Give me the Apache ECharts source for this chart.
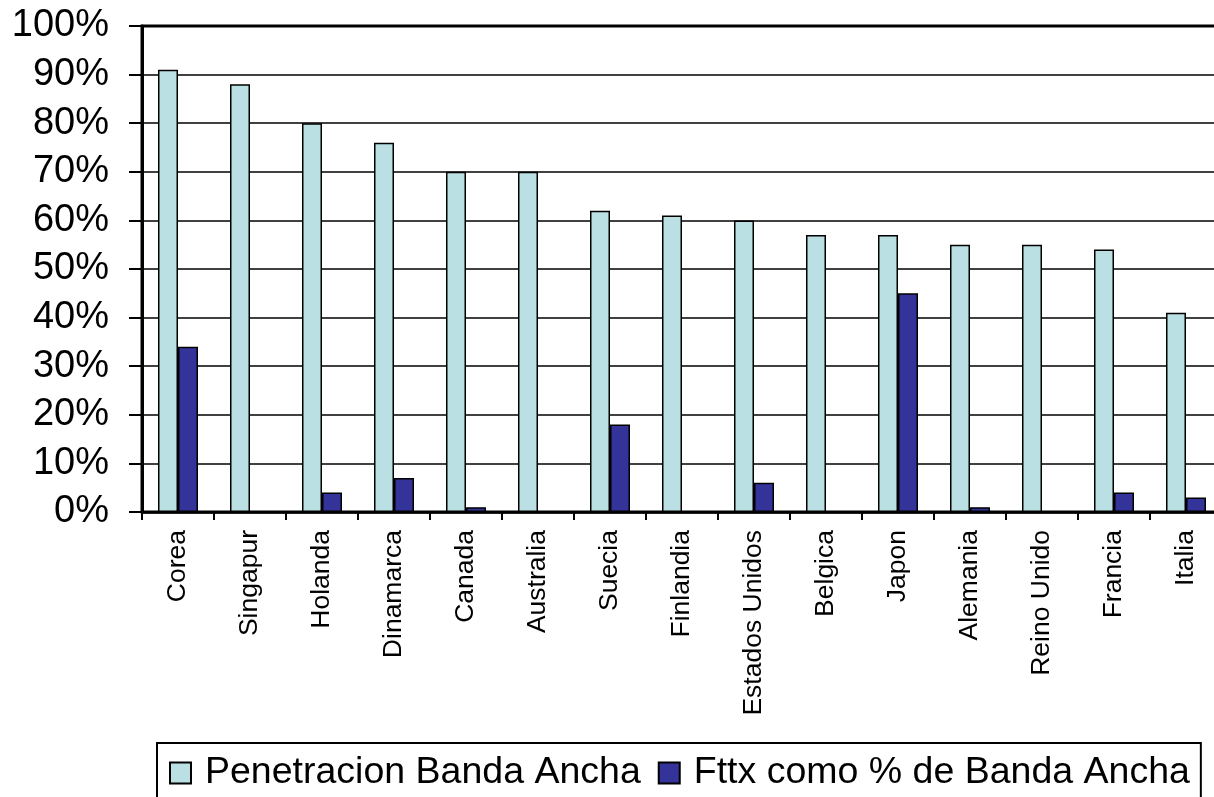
<!DOCTYPE html>
<html>
<head>
<meta charset="utf-8">
<style>html,body{margin:0;padding:0;background:#fff;}#c{width:1214px;height:797px;}</style>
<script src="https://cdn.jsdelivr.net/npm/echarts@6/dist/echarts.min.js"></script>
</head>
<body>
<div id="c"></div>
<script>
const categories = ['Corea','Singapur','Holanda','Dinamarca','Canada','Australia','Suecia','Finlandia','Estados Unidos','Belgica','Japon','Alemania','Reino Unido','Francia','Italia'];
const penetracion = [91, 88, 80, 76, 70, 70, 62, 61, 60, 57, 57, 55, 55, 54, 41];
const fttx = [34, null, 4, 7, 1, null, 18, null, 6, null, 45, 1, null, 4, 3];
const seriesNames = ['Penetracion Banda Ancha', 'Fttx como % de Banda Ancha'];

const FONT = '"Liberation Sans", Arial, sans-serif';
const chart = echarts.init(document.getElementById('c'), null, {renderer: 'canvas'});
chart.setOption({
  animation: false,
  backgroundColor: '#fff',
  grid: {left: 142, top: 26, width: 1080, height: 486, show: true, borderColor: '#000', borderWidth: 3,
         backgroundColor: 'transparent', containLabel: false, outerBoundsMode: 'none'},
  legend: {
    left: 157, top: 743,
    padding: [11, 11, 12, 12],
    itemWidth: 21, itemHeight: 21, itemGap: 17,
    borderColor: '#000', borderWidth: 2,
    icon: 'rect',
    textStyle: {fontFamily: FONT, fontSize: 37.5, color: '#000', padding: [0, 0, 0, 9]},
    data: seriesNames
  },
  xAxis: {
    type: 'category',
    data: categories,
    axisLine: {lineStyle: {color: '#000', width: 2.5}},
    axisTick: {show: true, length: 8, lineStyle: {color: '#000', width: 2}},
    axisLabel: {rotate: 90, margin: 18, fontFamily: FONT, fontSize: 26.5, color: '#000', interval: 0}
  },
  yAxis: {
    type: 'value', min: 0, max: 100, interval: 10,
    axisLine: {show: true, lineStyle: {color: '#000', width: 3}},
    axisTick: {show: true, length: 13, lineStyle: {color: '#000', width: 2}},
    axisLabel: {formatter: '{value}%', margin: 33, fontFamily: FONT, fontSize: 38, color: '#000'},
    splitLine: {show: true, lineStyle: {color: '#000', width: 1.5}}
  },
  series: [
    {name: seriesNames[0], type: 'bar', data: penetracion, barWidth: 20, barGap: '0%',
     itemStyle: {color: '#BBE0E3', borderColor: '#000', borderWidth: 1.5}},
    {name: seriesNames[1], type: 'bar', data: fttx, barWidth: 20,
     itemStyle: {color: '#333399', borderColor: '#000', borderWidth: 1.5}}
  ]
});
</script>
</body>
</html>
